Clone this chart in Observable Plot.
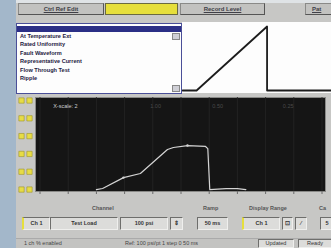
<!DOCTYPE html>
<html><head><meta charset="utf-8">
<script src="https://cdn.jsdelivr.net/npm/d3@7"></script>
<script src="https://cdn.jsdelivr.net/npm/@observablehq/plot@0.6"></script>
<style>
html,body{margin:0;padding:0;}
body{width:331px;height:248px;overflow:hidden;background:#a3b7ca;position:relative;font-family:"Liberation Sans",Arial,sans-serif;}
.abs{position:absolute;box-sizing:border-box;}
#panel{left:16px;top:0;width:315px;height:248px;background:#c7c7c5;border-top:3px solid #dfe3e6;}
.btn{background:#c2c2c0;border:1px solid #8a8a88;border-right-color:#555;border-bottom-color:#555;font-size:6px;font-weight:bold;color:#404048;text-align:center;line-height:10px;text-decoration:underline;overflow:hidden;white-space:nowrap;}
.field{background:#dcdcda;border:1px solid #6e6e6c;border-right-color:#efefed;border-bottom-color:#efefed;font-size:5.5px;font-weight:bold;color:#333;text-align:center;line-height:11px;white-space:nowrap;overflow:hidden;}
.lbl{font-size:5.5px;font-weight:bold;color:#555;white-space:nowrap;}
#list{left:16px;top:23px;width:166px;height:71px;background:#fdfdfd;border:1px solid #4a4f98;}
.item{position:absolute;left:3px;font-size:5.6px;font-weight:bold;color:#1e2040;white-space:nowrap;}
</style></head>
<body>
<div id="panel" class="abs"></div>
<div class="abs btn" style="left:18px;top:3px;width:86px;height:12px;">Ctrl Ref Edit</div>
<div class="abs" style="left:105px;top:3px;width:73px;height:12px;background:#e6df3c;border:1px solid #6a6a40;"></div>
<div class="abs btn" style="left:180px;top:3px;width:85px;height:12px;">Record Level</div>
<div class="abs btn" style="left:305px;top:3px;width:30px;height:12px;text-align:left;padding-left:6px;">Pat</div>
<div id="list" class="abs">
  <div class="abs" style="left:0;top:2px;width:164px;height:6px;background:#2b2f86;"></div>
  <div id="items"></div>
  <div class="abs" style="right:1px;top:9px;width:8px;height:7px;background:#cfcfd6;border:1px solid #888;"></div>
  <div class="abs" style="right:1px;bottom:1px;width:8px;height:7px;background:#cfcfd6;border:1px solid #888;"></div>
</div>
<div id="ramp" class="abs" style="left:182px;top:22px;width:149px;height:71px;background:#fdfdfd;"></div>
<div id="main" class="abs" style="left:16px;top:95px;width:315px;height:108px;"></div>
<div class="abs lbl" style="left:92px;top:205px;">Channel</div>
<div class="abs lbl" style="left:203px;top:205px;">Ramp</div>
<div class="abs lbl" style="left:249px;top:205px;">Display Range</div>
<div class="abs lbl" style="left:319px;top:205px;">Ca</div>
<div class="abs field" style="left:22px;top:217px;width:28px;height:13px;border-left:2px solid #e6df3c;">Ch 1</div>
<div class="abs field" style="left:50px;top:217px;width:68px;height:13px;">Test Load</div>
<div class="abs field" style="left:120px;top:217px;width:48px;height:13px;">100 psi</div>
<div class="abs field" style="left:170px;top:217px;width:13px;height:13px;">⇕</div>
<div class="abs field" style="left:197px;top:217px;width:31px;height:13px;">50 ms</div>
<div class="abs field" style="left:242px;top:217px;width:38px;height:13px;border-left:2px solid #e6df3c;">Ch 1</div>
<div class="abs field" style="left:282px;top:217px;width:11px;height:13px;">⊡</div>
<div class="abs field" style="left:295px;top:217px;width:12px;height:13px;">⁄</div>
<div class="abs field" style="left:320px;top:217px;width:14px;height:13px;">5</div>
<div class="abs" style="left:16px;top:238px;width:315px;height:10px;background:#c3c3c1;border-top:1px solid #aaa;"></div>
<div class="abs lbl" style="left:24px;top:240px;color:#444;font-weight:normal;">1 ch % enabled</div>
<div class="abs lbl" style="left:125px;top:240px;color:#444;font-weight:normal;">Ref: 100 psi/pt 1 step 0 50 ms</div>
<div class="abs field" style="left:258px;top:239px;width:36px;height:9px;line-height:7px;font-weight:normal;">Updated</div>
<div class="abs field" style="left:298px;top:239px;width:34px;height:9px;line-height:7px;font-weight:normal;">Ready</div>
<script>
// ----- data -----
const listItems = ["At Temperature Ext", "Rated Uniformity", "Fault Waveform", "Representative Current", "Flow Through Test", "Ripple"];
const rampTime = [0, 14, 84, 84, 148];
const rampLevel = [0, 0, 100, 0, 0];
const traceX = [2.0, 2.22, 2.96, 3.56, 4.52, 4.73, 5.23, 5.87, 5.95, 6.02, 6.6, 7.0, 7.3];
const traceY = [0, 0.06, 0.67, 0.9, 2.25, 2.36, 2.47, 2.42, 2.3, 0, 0.05, 0.05, 0];
const yTicks = [0, 1, 2, 3, 4, 5];
const xTicks = [0, 1, 2, 3, 4, 5, 6, 7, 8, 9, 10];
const headerLabels = ["X-scale: 2", "1.00", "0.50", "0.25"];
const headerX = [0.9, 4.1, 6.3, 8.8];

// list box
const itemsDiv = document.getElementById("items");
listItems.forEach((t, i) => {
  const d = document.createElement("div");
  d.className = "item";
  d.style.top = (9 + i * 8.4) + "px";
  d.textContent = t;
  itemsDiv.appendChild(d);
});

// ramp plot
const rampData = rampTime.map((t, i) => ({t, v: rampLevel[i]}));
document.getElementById("ramp").append(Plot.plot({
  width: 149, height: 71,
  margin: 0,
  x: {domain: [0, 148], axis: null},
  y: {domain: [-4.7, 106.25], axis: null},
  style: {background: "transparent"},
  marks: [
    Plot.line(rampData, {x: "t", y: "v", stroke: "#1c1c1c", strokeWidth: 1.8})
  ]
}));

// main plot
const trace = traceX.map((x, i) => ({x, y: traceY[i]}));
const headers = headerLabels.map((t, i) => ({t, x: headerX[i]}));
document.getElementById("main").append(Plot.plot({
  width: 315, height: 108,
  marginLeft: 19, marginRight: 6, marginTop: 2, marginBottom: 12,
  x: {domain: [-0.16, 10.124], label: null},
  y: {domain: [-0.11, 5.17], axis: null},
  style: {background: "transparent", fontFamily: "Liberation Sans, Arial, sans-serif"},
  marks: [
    Plot.frame({fill: "#151515", stroke: "#8a8a88"}),
    Plot.ruleX(xTicks, {stroke: "#262626", strokeWidth: 0.8}),
    Plot.axisX(xTicks, {tickSize: 3, stroke: "#6a6a6a", tickFormat: () => "", anchor: "bottom", label: null}),
    Plot.dot(yTicks, {y: d => d, frameAnchor: "left", dx: -14, symbol: "square", r: 3, fill: "#e7dc45", stroke: "#9e962a", strokeWidth: 0.6}),
    Plot.dot(yTicks, {y: d => d, frameAnchor: "left", dx: -6, symbol: "square", r: 3, fill: "#e7dc45", stroke: "#9e962a", strokeWidth: 0.6}),
    Plot.text(headers, {x: "x", frameAnchor: "top", dy: 7, text: "t", fill: (d, i) => i === 0 ? "#cfcfcf" : "#4a4a4a", fontSize: 5.5}),
    Plot.line(trace, {x: "x", y: "y", stroke: "#d4d4d4", strokeWidth: 1.2, curve: "linear"}),
    Plot.dot(trace.filter((d, i) => i === 2 || i === 6), {x: "x", y: "y", r: 1.2, fill: "#d4d4d4"})
  ]
}));
</script>
</body></html>
